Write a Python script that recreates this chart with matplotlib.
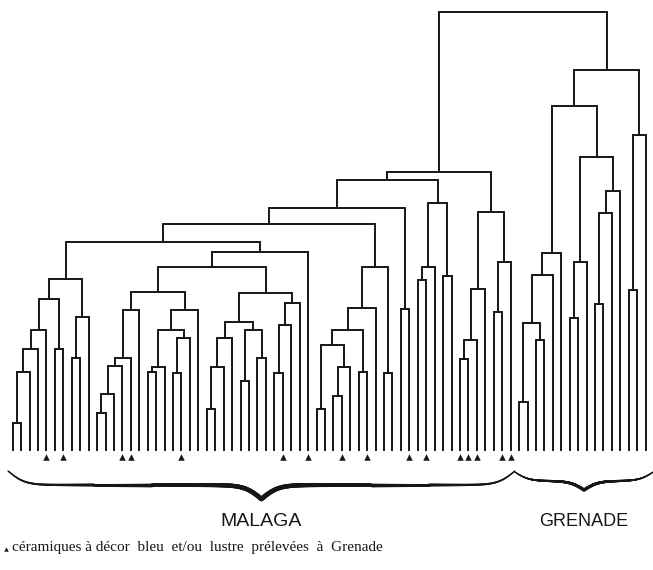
import numpy as np
import matplotlib.pyplot as plt
from matplotlib.collections import LineCollection

# --- data -------------------------------------------------------------------
n_leaves = 76
malaga_n = 60          # leaves 0..59 = Malaga, 60..75 = Grenade

# merges: (left, right, height). ints are leaves, 'mK' is the K-th merge
merges = [
    (0, 1, 27), ('m0', 2, 78), ('m1', 3, 101), ('m2', 4, 120),          # m0-m3
    (5, 6, 101), ('m3', 'm4', 151), (7, 8, 92), ('m6', 9, 133),         # m4-m7
    ('m5', 'm7', 171),                                                  # m8
    (10, 11, 37), ('m9', 12, 56), ('m10', 13, 84), ('m11', 14, 92.5),   # m9-m12
    ('m12', 15, 140),                                                   # m13
    (16, 17, 78), ('m14', 18, 83), (19, 20, 77), ('m16', 21, 112),      # m14-m17
    ('m15', 'm17', 120.5), ('m18', 22, 140), ('m13', 'm19', 158),       # m18-m20
    (23, 24, 41), ('m21', 25, 83), ('m22', 26, 112), (27, 28, 69),      # m21-m24
    (29, 30, 92), ('m24', 'm25', 120), ('m23', 'm26', 128),             # m25-m27
    (31, 32, 77), ('m28', 33, 125), ('m29', 34, 147),                   # m28-m30
    ('m27', 'm30', 157), ('m20', 'm31', 183), ('m32', 35, 198),         # m31-m33
    ('m8', 'm33', 208),                                                 # m34
    (36, 37, 41), (38, 39, 54), ('m36', 40, 83), ('m35', 'm37', 105),   # m35-m38
    (41, 42, 78), ('m38', 'm39', 120), ('m40', 43, 142), (44, 45, 77),  # m39-m42
    ('m41', 'm42', 183), ('m34', 'm43', 226), (46, 47, 141),            # m43-m45
    ('m44', 'm45', 242),                                                # m46
    (48, 49, 170), ('m47', 50, 183), (51, 52, 174), ('m48', 'm49', 247.5),  # m47-m50
    ('m46', 'm50', 270),                                                # m51
    (53, 54, 91), ('m52', 55, 110), ('m53', 56, 161), (57, 58, 138),    # m52-m55
    ('m55', 59, 188), ('m54', 'm56', 238), ('m51', 'm57', 278),         # m56-m58
    (60, 61, 48), (62, 63, 110), ('m59', 'm60', 127), ('m61', 64, 175), # m59-m62
    ('m62', 65, 197), (66, 67, 132), ('m64', 68, 188), (69, 70, 146),   # m63-m66
    ('m66', 71, 237), ('m67', 72, 259), ('m65', 'm68', 293),            # m67-m69
    ('m63', 'm69', 344), (73, 74, 160), ('m71', 75, 315),               # m70-m72
    ('m70', 'm72', 380), ('m58', 'm73', 438),                           # m73-m74
]

marked_leaves = [4, 6, 13, 14, 20, 32, 35, 39, 42, 47, 49, 53, 54, 55, 58, 59]

group_labels = ['MALAGA', 'GRENADE']
legend_text = 'céramiques à décor  bleu  et/ou  lustre  prélevées  à  Grenade'

ink = '#161616'

fig = plt.figure(figsize=(6.53, 5.70), dpi=100)
ax = fig.add_axes([0, 0, 1, 1])
ax.set_xlim(-1.505, 75.87)
ax.set_ylim(-120, 450)
ax.axis('off')

# --- dendrogram ---------------------------------------------------------------
node_x, node_h = [], []


def get(ref):
    if isinstance(ref, str):
        k = int(ref[1:])
        return node_x[k], node_h[k]
    return float(ref), 0.0


segs = []
for a, b, h in merges:
    xa, ha = get(a)
    xb, hb = get(b)
    segs.append([(xa, ha), (xa, h), (xb, h), (xb, hb)])
    node_x.append((xa + xb) / 2)
    node_h.append(h)

ax.add_collection(LineCollection(segs, colors=ink, linewidths=1.4,
                                 joinstyle='miter', capstyle='projecting'))

ax.scatter(marked_leaves, [-7] * len(marked_leaves), marker='^', s=22,
           color=ink, linewidths=0)


# --- curly braces under the two groups ---------------------------------------
def brace(x0, x1, y_end, depth, beta, w_mid, w_end):
    x = np.linspace(x0, x1, 601)
    half = x[:301]
    f = (1 / (1 + np.exp(-beta * (half - half[0])))
         + 1 / (1 + np.exp(-beta * (half - half[-1]))))
    f = np.concatenate([f, f[-2::-1]])
    y = y_end - depth * (f - 0.5)
    u = np.abs(np.linspace(-1, 1, len(x) - 1))
    widths = w_end + (w_mid - w_end) * (1 - u) ** 0.8
    pts = np.column_stack([x, y]).reshape(-1, 1, 2)
    seg = np.concatenate([pts[:-1], pts[1:]], axis=1)
    ax.add_collection(LineCollection(seg, colors=ink, linewidths=widths,
                                     capstyle='round'))
    return (x0 + x1) / 2


mid_m = brace(-0.55, malaga_n - 0.5, -21, 28, 1.0, 3.4, 1.0)
mid_g = brace(malaga_n - 0.5, 75.9, -22, 18, 1.2, 2.2, 0.8)

ax.text(mid_m, -72, group_labels[0], ha='center', va='center',
        fontsize=14, family='Liberation Sans', color=ink)
ax.text(mid_g, -72, group_labels[1], ha='center', va='center',
        fontsize=13, family='Liberation Sans', color=ink)

ax.scatter([-0.8], [-98.5], marker='^', s=10, color=ink, linewidths=0)
ax.text(-0.05, -97, legend_text, ha='left', va='center',
        fontsize=11, family='Liberation Serif', color=ink)

fig.savefig('out.png', dpi=100)
